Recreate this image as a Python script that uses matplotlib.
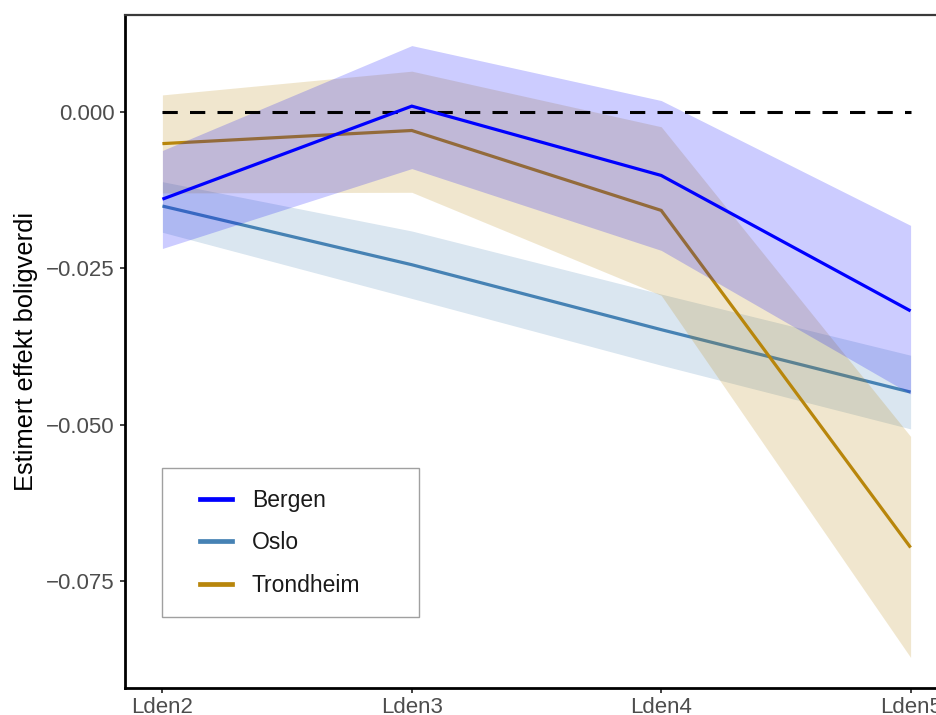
import matplotlib
matplotlib.use("Agg")
import numpy as np
import matplotlib.pyplot as plt
from matplotlib.lines import Line2D
from matplotlib.legend_handler import HandlerLine2D

plt.rcParams['font.family'] = ['Liberation Sans', 'DejaVu Sans']

categories = ["Lden2", "Lden3", "Lden4", "Lden5"]

bergen_est = [-0.0139, 0.0010, -0.0101, -0.0318]
bergen_hi = [-0.0061, 0.0107, 0.0019, -0.0181]
bergen_lo = [-0.0218, -0.0090, -0.0221, -0.0451]

oslo_est = [-0.0150, -0.0244, -0.0348, -0.0448]
oslo_hi = [-0.0111, -0.0190, -0.0291, -0.0389]
oslo_lo = [-0.0192, -0.0298, -0.0405, -0.0507]

trond_est = [-0.0050, -0.0029, -0.0157, -0.0697]
trond_hi = [0.0028, 0.0066, -0.0023, -0.0519]
trond_lo = [-0.0129, -0.0128, -0.0293, -0.0873]

ref_value = 0.0
y_ticks = [0.0, -0.025, -0.050, -0.075]
y_tick_labels = ["0.000", "\u22120.025", "\u22120.050", "\u22120.075"]
ylabel = "Estimert effekt boligverdi"

series = [
    # name, est, hi, lo, color (drawing order: Oslo, Trondheim, Bergen)
    ("Oslo", oslo_est, oslo_hi, oslo_lo, "steelblue"),
    ("Trondheim", trond_est, trond_hi, trond_lo, "darkgoldenrod"),
    ("Bergen", bergen_est, bergen_hi, bergen_lo, "blue"),
]
legend_order = ["Bergen", "Oslo", "Trondheim"]

W, H = 936, 715
fig = plt.figure(figsize=(W / 100, H / 100), dpi=100)
ax = fig.add_axes([125 / W, 1 - 688 / H, (948 - 125) / W, (688 - 15) / H])

x = list(range(1, len(categories) + 1))
z = 1
handles = {}
for name, est, hi, lo, col in series:
    ax.fill_between(x, lo, hi, color=col, alpha=0.2, linewidth=0, zorder=z)
    ax.plot(x, est, color=col, linewidth=2.3, zorder=z + 1,
            solid_joinstyle='miter', solid_capstyle='butt')
    handles[name] = Line2D([], [], color=col, linewidth=3.4)
    z += 2

ax.plot([x[0], x[-1]], [ref_value, ref_value], color="black", linewidth=2.2,
        linestyle=(0, (5, 4)), dash_capstyle='butt', zorder=z - 1.5)

ax.set_xlim(0.85, 4.15)
ax.set_ylim(-0.0922, 0.0156)
ax.set_xticks(x)
ax.set_xticklabels(categories)
ax.set_yticks(y_ticks)
ax.set_yticklabels(y_tick_labels)
ax.tick_params(axis='both', length=3.5, width=1.3, color='#333333',
               labelsize=16, labelcolor='#4D4D4D', pad=4)
ax.tick_params(axis='x', pad=3)
ax.set_ylabel(ylabel, fontsize=18.3, color='black')
ax.yaxis.set_label_coords(-0.106, 0.5)

for side in ['left', 'bottom']:
    ax.spines[side].set_linewidth(2.0)
    ax.spines[side].set_color('black')
ax.spines['top'].set_linewidth(1.6)
ax.spines['top'].set_color('#3a3a3a')
ax.spines['right'].set_visible(False)


class LeftPadHandler(HandlerLine2D):
    def __init__(self, pad, **kw):
        super().__init__(**kw)
        self.pad = pad

    def create_artists(self, legend, orig_handle, xdescent, ydescent, width,
                       height, fontsize, trans):
        arts = super().create_artists(legend, orig_handle, xdescent, ydescent,
                                      width, height, fontsize, trans)
        for a in arts:
            if isinstance(a, Line2D):
                n = len(a.get_xdata())
                if n >= 2:
                    a.set_xdata(np.linspace(-xdescent + self.pad * fontsize,
                                            -xdescent + width, n))
        return arts


leg_fs = 16.5
fs_px = leg_fs * 100 / 72
bp = 0.9
pad_left = (38 - bp * fs_px) / fs_px
hl = pad_left + 32 / fs_px
leg_handles = [handles[n] for n in legend_order]
hmap = {h: LeftPadHandler(pad_left) for h in leg_handles}
leg = ax.legend(leg_handles, legend_order, loc='upper left',
                bbox_to_anchor=(162 / W, 1 - 468 / H, (419 - 162) / W, 0),
                bbox_transform=fig.transFigure, mode='expand', borderaxespad=0,
                fontsize=leg_fs, frameon=True, fancybox=False, borderpad=bp,
                handlelength=hl, handletextpad=20 / fs_px, labelspacing=0.85,
                handler_map=hmap)
leg.get_frame().set_edgecolor('#888888')
leg.get_frame().set_linewidth(1.0)
for t in leg.get_texts():
    t.set_color('#1a1a1a')

fig.savefig("out.png", dpi=100)
